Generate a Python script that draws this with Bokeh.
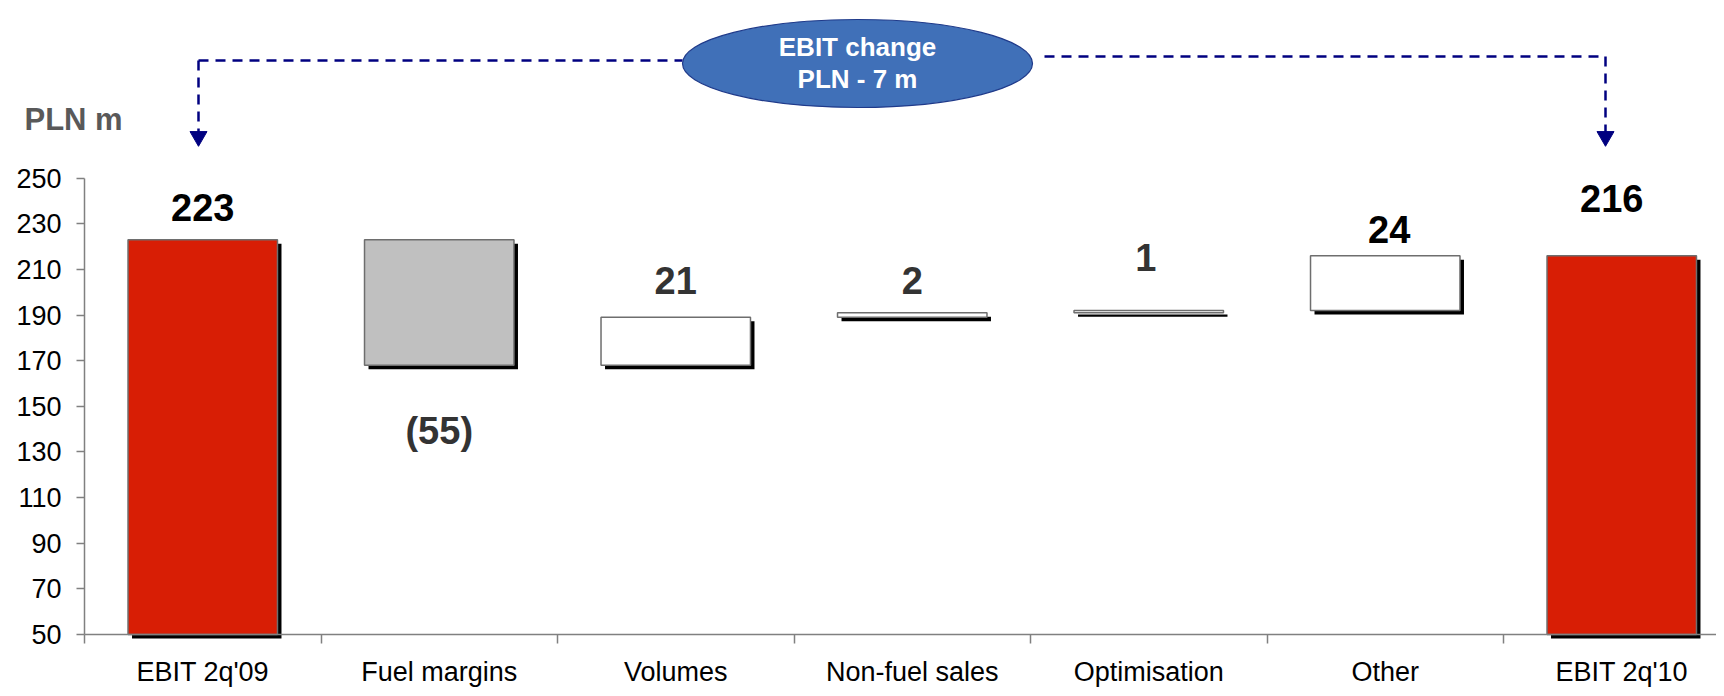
from bokeh.plotting import figure
from bokeh.models import FixedTicker, Range1d, ColumnDataSource
from bokeh.embed import file_html
from bokeh.resources import INLINE
from bokeh.core.properties import value

# ---------------- data ----------------
categories = ["EBIT 2q'09", "Fuel margins", "Volumes", "Non-fuel sales",
              "Optimisation", "Other", "EBIT 2q'10"]
amounts = [223, -55, 21, 2, 1, 24, 216]
kinds = ["total", "delta", "delta", "delta", "delta", "delta", "total"]
value_labels = ["223", "(55)", "21", "2", "1", "24", "216"]
y_ticks = [50, 70, 90, 110, 130, 150, 170, 190, 210, 230, 250]
unit_label = "PLN m"
bubble_lines = ["EBIT change", "PLN - 7 m"]

# ---------------- style / layout ----------------
FONT = "Liberation Sans"
RED = "#D81E05"
GREY_FILL = "#C0C0C0"
OUTLINE = "#6E6E6E"
AXIS = "#808080"
NAVY = "#000080"
BUBBLE = "#4070B8"

W, H = 1716, 688
AXIS_X_PX = 84          # canvas x of the y axis
AXIS_Y_PX = 634         # canvas y of the x axis (value 50)
PX_PER_CAT = 236.5
PX_PER_UNIT = 2.2815
y_floor = y_ticks[0]
x_start = -0.5 - AXIS_X_PX / PX_PER_CAT
x_end = x_start + W / PX_PER_CAT
y_start = y_floor - (H - AXIS_Y_PX) / PX_PER_UNIT
y_end = y_floor + AXIS_Y_PX / PX_PER_UNIT


def py2y(py):
    """canvas pixel row -> data value"""
    return y_floor + (AXIS_Y_PX - py) / PX_PER_UNIT


def px2x(px):
    """canvas pixel column -> data value"""
    return x_start + px / PX_PER_CAT


bar_w = 0.632
sdx = 4 / PX_PER_CAT
sdy = 4 / PX_PER_UNIT

# waterfall geometry
bottoms, tops, fills = [], [], []
running = 0
for a, k in zip(amounts, kinds):
    if k == "total":
        bottoms.append(y_floor)
        tops.append(a)
        fills.append(RED)
        running = a
    else:
        start = running
        running = running + a
        bottoms.append(min(start, running))
        tops.append(max(start, running))
        fills.append(GREY_FILL if a < 0 else "white")

xs = list(range(len(categories)))
src = ColumnDataSource(dict(
    left=[x - bar_w / 2 for x in xs],
    right=[x + bar_w / 2 for x in xs],
    bottom=bottoms, top=tops, fill=fills,
    sleft=[x - bar_w / 2 + sdx for x in xs],
    sright=[x + bar_w / 2 + sdx for x in xs],
    sbottom=[b - sdy for b in bottoms],
    stop=[t - sdy for t in tops],
))

p = figure(width=W, height=H, output_backend="svg", toolbar_location=None,
           x_range=Range1d(x_start, x_end), y_range=Range1d(y_start, y_end),
           min_border=0)
p.outline_line_color = None
p.xgrid.visible = False
p.ygrid.visible = False
p.background_fill_color = "white"
p.border_fill_color = "white"

# shadows then bars
p.quad(left="sleft", right="sright", bottom="sbottom", top="stop", source=src,
       fill_color="black", line_color=None)
p.quad(left="left", right="right", bottom="bottom", top="top", source=src,
       fill_color="fill", line_color=OUTLINE, line_width=1.5)

# value labels (centre of text, offset in px from the bar edge)
label_colors = ["black", "#333333", "#333333", "#333333", "#333333", "black", "black"]
anchor = [b if (a < 0 and k == "delta") else t
          for a, k, b, t in zip(amounts, kinds, bottoms, tops)]
y_off = [-32, 66, -37, -32, -53, -26, -57]
x_off = [0, 0, 0, 0, -3, 4, -10]
lsrc = ColumnDataSource(dict(x=xs, y=anchor, text=value_labels, c=label_colors,
                             yo=y_off, xo=x_off))
p.text(x="x", y="y", text="text", source=lsrc, text_color="c",
       x_offset="xo", y_offset="yo",
       text_font=value(FONT), text_font_style="bold", text_font_size="38px",
       text_align="center", text_baseline="middle")

# axes (fixed inside the canvas so the frame fills the whole canvas)
yax = p.yaxis[0]
yax.fixed_location = -0.5
yax.ticker = FixedTicker(ticks=y_ticks)
yax.bounds = (y_ticks[0], y_ticks[-1])
yax.axis_line_color = AXIS
yax.axis_line_width = 1.5
yax.major_tick_line_color = AXIS
yax.major_tick_line_width = 1.5
yax.major_tick_out = 8
yax.major_tick_in = 0
yax.minor_tick_line_color = None
yax.major_label_text_font = FONT
yax.major_label_text_font_size = "27px"
yax.major_label_text_color = "black"
yax.major_label_standoff = 15

xax = p.xaxis[0]
xax.fixed_location = y_floor
xax.bounds = (-0.5, x_end)
xax.ticker = FixedTicker(ticks=xs, minor_ticks=[x - 0.5 for x in xs] + [xs[-1] + 0.5])
xax.major_label_overrides = {x: c for x, c in zip(xs, categories)}
xax.axis_line_color = AXIS
xax.axis_line_width = 1.5
xax.major_tick_line_color = None
xax.major_tick_out = 0
xax.major_tick_in = 0
xax.minor_tick_line_color = AXIS
xax.minor_tick_line_width = 1.5
xax.minor_tick_out = 9
xax.minor_tick_in = 0
xax.major_label_text_font = FONT
xax.major_label_text_font_size = "27px"
xax.major_label_text_color = "black"
xax.major_label_standoff = 13

# "PLN m" unit label
p.text(x=[px2x(24)], y=[py2y(119)], text=[unit_label],
       text_font=value(FONT), text_font_style="bold", text_font_size="31px",
       text_color="#595959", text_align="left", text_baseline="middle")

# annotation: dashed bracket with arrows and bubble
lx, rx = px2x(198), px2x(1605)
bx = px2x(857)
left_end, right_start = px2x(682), px2x(1044)
ly, ry = py2y(60), py2y(56)
head_top = py2y(132)
p.segment(x0=[lx, right_start, lx, rx], y0=[ly, ry, ly, ry],
          x1=[left_end, rx, lx, rx], y1=[ly, ry, head_top, head_top],
          line_color=NAVY, line_width=2.5, line_dash="10 7")
p.scatter(x=[lx, rx], y=[py2y(136), py2y(136)], marker="inverted_triangle",
          size=17, fill_color=NAVY, line_color=NAVY)
p.ellipse(x=[bx], y=[py2y(63)], width=[350], height=[88],
          width_units="screen", height_units="screen",
          fill_color=BUBBLE, line_color="#1F3A8A", line_width=1.2)
p.text(x=[bx, bx], y=[py2y(46), py2y(78)], text=bubble_lines, text_color="white",
       text_font=value(FONT), text_font_style="bold", text_font_size="26px",
       text_align="center", text_baseline="middle")

open("out.html", "w").write(file_html(p, INLINE))
